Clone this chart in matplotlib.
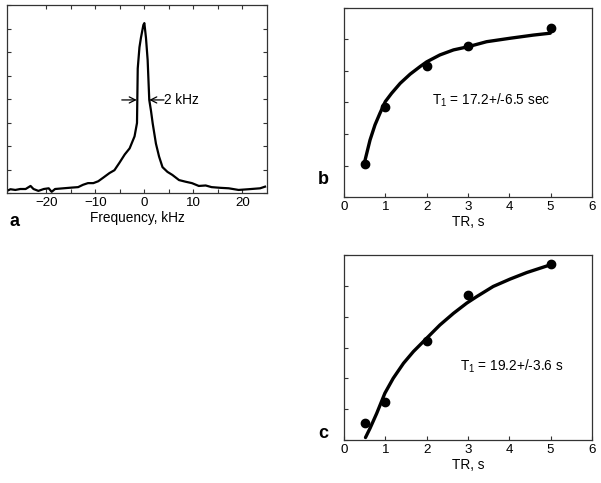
import matplotlib
matplotlib.use("Agg")
import matplotlib.pyplot as plt
from matplotlib.ticker import MultipleLocator, FixedLocator, NullFormatter

plt.rcParams['font.family'] = ['Liberation Sans', 'DejaVu Sans']
plt.rcParams['mathtext.default'] = 'regular'

# panel a: spectrum (frequency in kHz, amplitude in arbitrary units)
freq_khz = [-27.9, -27.3, -26.3, -25.3, -24.2, -23.2, -22.6, -21.6, -20.5, -19.5,
            -18.9, -18.2, -16.5, -14.8, -13.5, -12.5, -11.5, -10.4, -9.4, -8.4,
            -7.1, -6.1, -5.1, -4.0, -3.0, -2.0, -1.5, -1.35, -1.0, -0.7,
            -0.2, 0.0, 0.33, 0.67, 1.0, 1.35, 1.7, 2.36, 3.0, 3.7,
            4.7, 5.7, 7.07, 8.4, 9.7, 11.1, 12.5, 13.7, 15.5, 17.2,
            19.2, 21.2, 23.6, 24.6]
amplitude = [0.10, 0.16, 0.13, 0.17, 0.17, 0.30, 0.17, 0.09, 0.17, 0.20,
             0.05, 0.17, 0.20, 0.23, 0.25, 0.35, 0.42, 0.42, 0.50, 0.65,
             0.85, 0.97, 1.28, 1.64, 1.90, 2.41, 2.98, 5.30, 6.20, 6.60,
             7.15, 7.23, 6.60, 5.66, 3.96, 3.50, 2.96, 2.10, 1.55, 1.10,
             0.90, 0.77, 0.55, 0.48, 0.42, 0.30, 0.32, 0.25, 0.22, 0.20,
             0.13, 0.16, 0.20, 0.27]

# panels b and c: measured points
tr_points = [0.5, 1, 2, 3, 5]
signal_b = [1.04, 2.87, 4.17, 4.79, 5.36]
signal_c = [0.54, 1.23, 3.22, 4.71, 5.70]

# fitted curves
fit_tr_b = [0.5, 0.63, 0.75, 0.87, 1.0, 1.15, 1.36, 1.6, 1.84, 2.0, 2.32, 2.65,
            3.0, 3.45, 4.02, 4.58, 4.99]
fit_b = [1.12, 1.81, 2.29, 2.66, 3.03, 3.29, 3.61, 3.90, 4.14, 4.29, 4.51, 4.67,
         4.77, 4.93, 5.04, 5.14, 5.20]
fit_tr_c = [0.52, 0.63, 0.79, 0.99, 1.19, 1.44, 1.68, 2.0, 2.32, 2.65, 2.97,
            3.21, 3.61, 4.02, 4.42, 4.99]
fit_c = [0.08, 0.38, 0.86, 1.52, 2.0, 2.49, 2.87, 3.3, 3.73, 4.11, 4.44,
         4.65, 4.98, 5.22, 5.43, 5.68]

W, H = 601, 483
fig = plt.figure(figsize=(W / 100, H / 100), dpi=100)


def box(l, t, r, b):
    return [l / W, (H - b) / H, (r - l) / W, (b - t) / H]


spine_col = '#333333'
fs = 9.8
tfs = 9.6
arrow_kw = dict(arrowstyle='->', lw=0.9, color='black', mutation_scale=11,
                shrinkA=0, shrinkB=0)

# ---- panel a ----
ax_a = fig.add_axes(box(7, 5, 267, 193))
ax_a.plot(freq_khz, amplitude, color='black', lw=1.6)
ax_a.set_xlim(-28, 25)
ax_a.set_ylim(0, 8)
ax_a.xaxis.set_major_locator(FixedLocator([-20, -10, 0, 10, 20]))
ax_a.xaxis.set_minor_locator(FixedLocator([-15, -5, 5, 15]))
ax_a.yaxis.set_major_locator(MultipleLocator(1))
ax_a.yaxis.set_major_formatter(NullFormatter())
ax_a.tick_params(which='both', direction='in', length=3, width=0.8,
                 top=True, right=True, labelsize=tfs, color=spine_col, pad=3)
ax_a.set_xlabel('Frequency, kHz', fontsize=fs, labelpad=1)
ax_a.annotate('', xy=(-1.55, 3.96), xytext=(-4.6, 3.96), arrowprops=arrow_kw)
ax_a.annotate('', xy=(1.0, 3.96), xytext=(4.0, 3.96), arrowprops=arrow_kw)
ax_a.text(4.1, 3.96, '2 kHz', fontsize=fs, va='center', ha='left')
fig.text(15 / W, 1 - 222 / H, 'a', fontsize=13, fontweight='bold',
         ha='center', va='center')

# ---- panels b and c ----
panels = [
    (box(344, 8, 592, 197), signal_b, fit_tr_b, fit_b,
     'T$_1$ = 17.2+/-6.5 sec', (2.13, 3.08), 'b', 180),
    (box(344, 255, 592, 440), signal_c, fit_tr_c, fit_c,
     'T$_1$ = 19.2+/-3.6 s', (2.81, 2.38), 'c', 433),
]
for rect, pts, ftr, fit, label, pos, letter, ly in panels:
    ax = fig.add_axes(rect)
    ax.plot(ftr, fit, color='black', lw=2.4, solid_capstyle='round')
    ax.plot(tr_points, pts, 'o', color='black', ms=6)
    ax.set_xlim(0, 6)
    ax.set_ylim(0, 6)
    ax.xaxis.set_major_locator(MultipleLocator(1))
    ax.yaxis.set_major_locator(MultipleLocator(1))
    ax.yaxis.set_major_formatter(NullFormatter())
    ax.tick_params(direction='in', length=3, width=0.8, labelsize=tfs,
                   color=spine_col, pad=3)
    ax.set_xlabel('TR, s', fontsize=fs, labelpad=1)
    ax.text(pos[0], pos[1], label, fontsize=fs, va='center', ha='left')
    fig.text(323 / W, 1 - ly / H, letter, fontsize=13, fontweight='bold',
             ha='center', va='center')

for ax in fig.axes:
    for sp in ax.spines.values():
        sp.set_color(spine_col)
        sp.set_linewidth(0.9)

fig.savefig('out.png', dpi=100)
